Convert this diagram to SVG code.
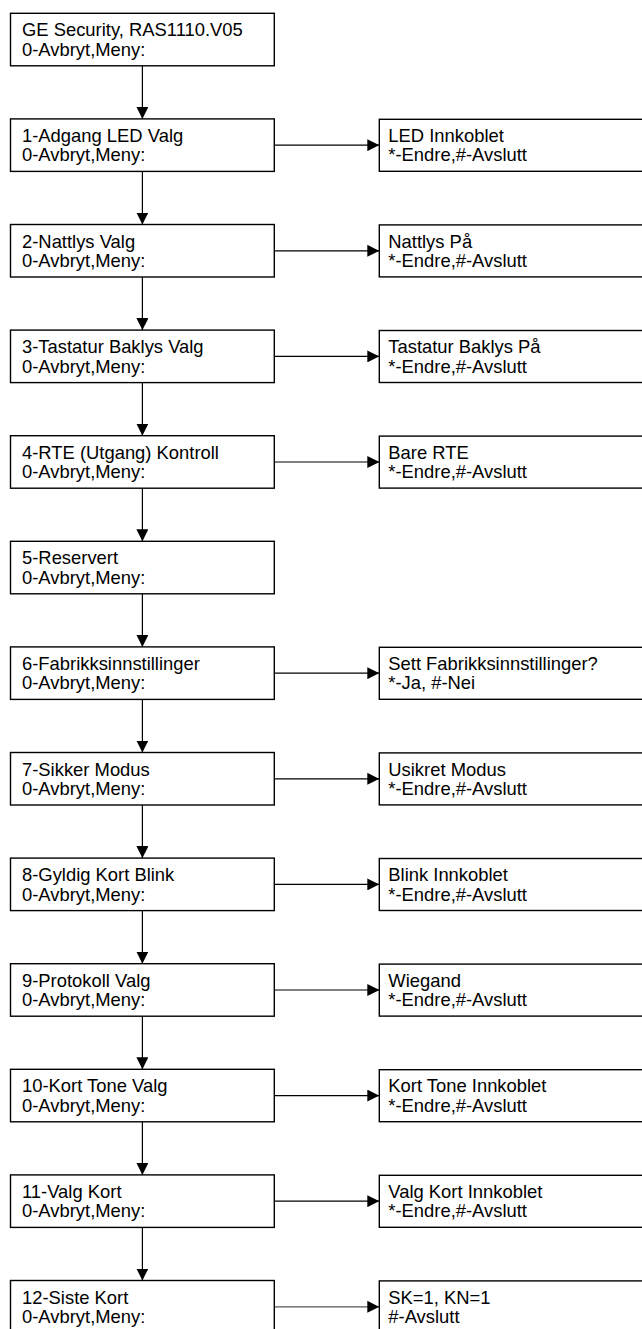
<svg xmlns="http://www.w3.org/2000/svg" width="642" height="1329" viewBox="0 0 642 1329">
<style>
.box{fill:#fff;stroke:#000;stroke-width:1.4}
.t{font-family:"Liberation Sans",Arial,sans-serif;font-size:18.4px;fill:#000}
.c{stroke:#000;stroke-width:1.2;fill:none;marker-end:url(#ah)}
</style>
<defs>
<marker id="ah" markerUnits="userSpaceOnUse" markerWidth="12" markerHeight="12" refX="12" refY="6" orient="auto">
<path d="M0,0 L12,6 L0,12 z" fill="#000"/>
</marker>
</defs>
<g id="connectors">
<line class="c" x1="142.4" y1="65.8" x2="142.4" y2="118.9"/>
<line class="c" x1="142.4" y1="171.4" x2="142.4" y2="224.5"/>
<line class="c" x1="142.4" y1="277" x2="142.4" y2="330.1"/>
<line class="c" x1="142.4" y1="382.6" x2="142.4" y2="435.7"/>
<line class="c" x1="142.4" y1="488.2" x2="142.4" y2="541.3"/>
<line class="c" x1="142.4" y1="593.8" x2="142.4" y2="646.9"/>
<line class="c" x1="142.4" y1="699.4" x2="142.4" y2="752.5"/>
<line class="c" x1="142.4" y1="805" x2="142.4" y2="858.1"/>
<line class="c" x1="142.4" y1="910.6" x2="142.4" y2="963.7"/>
<line class="c" x1="142.4" y1="1016.2" x2="142.4" y2="1069.3"/>
<line class="c" x1="142.4" y1="1121.8" x2="142.4" y2="1174.9"/>
<line class="c" x1="142.4" y1="1227.4" x2="142.4" y2="1280.5"/>
<line class="c" x1="274.3" y1="145.2" x2="379.3" y2="145.2"/>
<line class="c" x1="274.3" y1="250.8" x2="379.3" y2="250.8"/>
<line class="c" x1="274.3" y1="356.4" x2="379.3" y2="356.4"/>
<line class="c" x1="274.3" y1="462" x2="379.3" y2="462"/>
<line class="c" x1="274.3" y1="673.2" x2="379.3" y2="673.2"/>
<line class="c" x1="274.3" y1="778.8" x2="379.3" y2="778.8"/>
<line class="c" x1="274.3" y1="884.4" x2="379.3" y2="884.4"/>
<line class="c" x1="274.3" y1="990" x2="379.3" y2="990"/>
<line class="c" x1="274.3" y1="1095.6" x2="379.3" y2="1095.6"/>
<line class="c" x1="274.3" y1="1201.2" x2="379.3" y2="1201.2"/>
<line class="c" x1="274.3" y1="1306.8" x2="379.3" y2="1306.8" style="stroke:#555"/>
</g>
<g id="n0"><rect class="box" x="10.5" y="13.3" width="263.8" height="52.5"/><text class="t" x="22" y="36.3">GE Security, RAS1110.V05</text><text class="t" x="22" y="55.8">0-Avbryt,Meny:</text></g>
<g id="n1"><rect class="box" x="10.5" y="118.9" width="263.8" height="52.5"/><text class="t" x="22" y="141.9">1-Adgang LED Valg</text><text class="t" x="22" y="161.4">0-Avbryt,Meny:</text></g>
<g id="n2"><rect class="box" x="10.5" y="224.5" width="263.8" height="52.5"/><text class="t" x="22" y="247.5">2-Nattlys Valg</text><text class="t" x="22" y="267">0-Avbryt,Meny:</text></g>
<g id="n3"><rect class="box" x="10.5" y="330.1" width="263.8" height="52.5"/><text class="t" x="22" y="353.1">3-Tastatur Baklys Valg</text><text class="t" x="22" y="372.6">0-Avbryt,Meny:</text></g>
<g id="n4"><rect class="box" x="10.5" y="435.7" width="263.8" height="52.5"/><text class="t" x="22" y="458.7">4-RTE (Utgang) Kontroll</text><text class="t" x="22" y="478.2">0-Avbryt,Meny:</text></g>
<g id="n5"><rect class="box" x="10.5" y="541.3" width="263.8" height="52.5"/><text class="t" x="22" y="564.3">5-Reservert</text><text class="t" x="22" y="583.8">0-Avbryt,Meny:</text></g>
<g id="n6"><rect class="box" x="10.5" y="646.9" width="263.8" height="52.5"/><text class="t" x="22" y="669.9">6-Fabrikksinnstillinger</text><text class="t" x="22" y="689.4">0-Avbryt,Meny:</text></g>
<g id="n7"><rect class="box" x="10.5" y="752.5" width="263.8" height="52.5"/><text class="t" x="22" y="775.5">7-Sikker Modus</text><text class="t" x="22" y="795">0-Avbryt,Meny:</text></g>
<g id="n8"><rect class="box" x="10.5" y="858.1" width="263.8" height="52.5"/><text class="t" x="22" y="881.1">8-Gyldig Kort Blink</text><text class="t" x="22" y="900.6">0-Avbryt,Meny:</text></g>
<g id="n9"><rect class="box" x="10.5" y="963.7" width="263.8" height="52.5"/><text class="t" x="22" y="986.7">9-Protokoll Valg</text><text class="t" x="22" y="1006.2">0-Avbryt,Meny:</text></g>
<g id="n10"><rect class="box" x="10.5" y="1069.3" width="263.8" height="52.5"/><text class="t" x="22" y="1092.3">10-Kort Tone Valg</text><text class="t" x="22" y="1111.8">0-Avbryt,Meny:</text></g>
<g id="n11"><rect class="box" x="10.5" y="1174.9" width="263.8" height="52.5"/><text class="t" x="22" y="1197.9">11-Valg Kort</text><text class="t" x="22" y="1217.4">0-Avbryt,Meny:</text></g>
<g id="n12"><rect class="box" x="10.5" y="1280.5" width="263.8" height="52.5"/><text class="t" x="22" y="1303.5">12-Siste Kort</text><text class="t" x="22" y="1323">0-Avbryt,Meny:</text></g>
<g id="r1"><rect class="box" x="379.3" y="119.3" width="270" height="52"/><text class="t" x="388.3" y="141.9">LED Innkoblet</text><text class="t" x="388.3" y="161.4">*-Endre,#-Avslutt</text></g>
<g id="r2"><rect class="box" x="379.3" y="224.9" width="270" height="52"/><text class="t" x="388.3" y="247.5">Nattlys På</text><text class="t" x="388.3" y="267">*-Endre,#-Avslutt</text></g>
<g id="r3"><rect class="box" x="379.3" y="330.5" width="270" height="52"/><text class="t" x="388.3" y="353.1">Tastatur Baklys På</text><text class="t" x="388.3" y="372.6">*-Endre,#-Avslutt</text></g>
<g id="r4"><rect class="box" x="379.3" y="436.1" width="270" height="52"/><text class="t" x="388.3" y="458.7">Bare RTE</text><text class="t" x="388.3" y="478.2">*-Endre,#-Avslutt</text></g>
<g id="r6"><rect class="box" x="379.3" y="647.3" width="270" height="52"/><text class="t" x="388.3" y="669.9">Sett Fabrikksinnstillinger?</text><text class="t" x="388.3" y="689.4">*-Ja, #-Nei</text></g>
<g id="r7"><rect class="box" x="379.3" y="752.9" width="270" height="52"/><text class="t" x="388.3" y="775.5">Usikret Modus</text><text class="t" x="388.3" y="795">*-Endre,#-Avslutt</text></g>
<g id="r8"><rect class="box" x="379.3" y="858.5" width="270" height="52"/><text class="t" x="388.3" y="881.1">Blink Innkoblet</text><text class="t" x="388.3" y="900.6">*-Endre,#-Avslutt</text></g>
<g id="r9"><rect class="box" x="379.3" y="964.1" width="270" height="52"/><text class="t" x="388.3" y="986.7">Wiegand</text><text class="t" x="388.3" y="1006.2">*-Endre,#-Avslutt</text></g>
<g id="r10"><rect class="box" x="379.3" y="1069.7" width="270" height="52"/><text class="t" x="388.3" y="1092.3">Kort Tone Innkoblet</text><text class="t" x="388.3" y="1111.8">*-Endre,#-Avslutt</text></g>
<g id="r11"><rect class="box" x="379.3" y="1175.3" width="270" height="52"/><text class="t" x="388.3" y="1197.9">Valg Kort Innkoblet</text><text class="t" x="388.3" y="1217.4">*-Endre,#-Avslutt</text></g>
<g id="r12"><rect class="box" x="379.3" y="1280.9" width="270" height="52"/><text class="t" x="388.3" y="1303.5">SK=1, KN=1</text><text class="t" x="388.3" y="1323">#-Avslutt</text></g>
</svg>
